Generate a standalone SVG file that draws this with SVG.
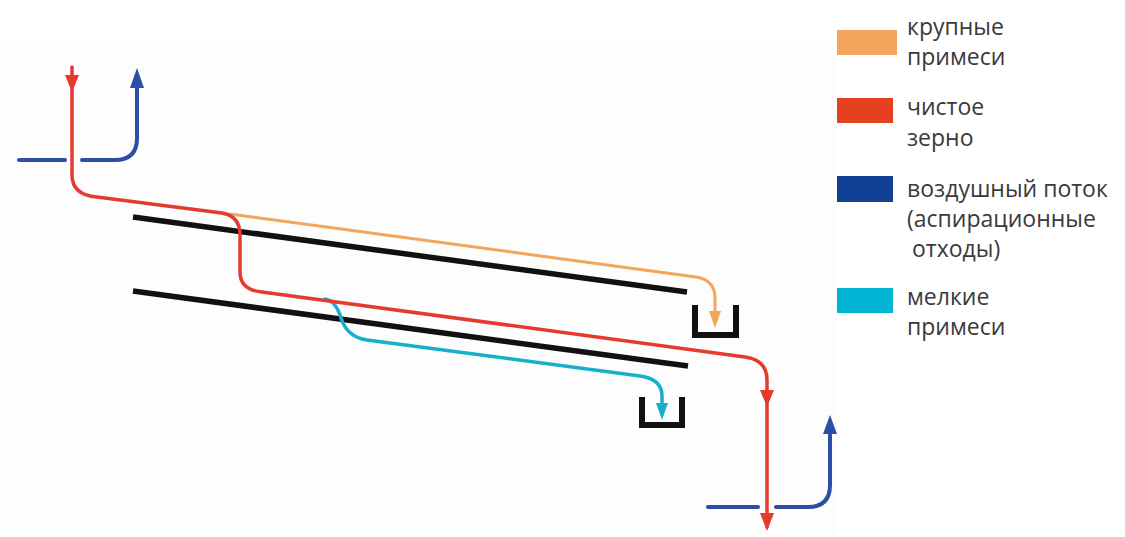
<svg xmlns="http://www.w3.org/2000/svg" width="1125" height="537" viewBox="0 0 1125 537">
<style>
.flow{fill:none;stroke-linecap:round;stroke-linejoin:round}
.red{stroke:#e53a2e;stroke-width:3.5}
.blue{stroke:#2b4ea6;stroke-width:4}
.orange{stroke:#f2a65a;stroke-width:3}
.cyan{stroke:#17afcc;stroke-width:3.5}
.sieve{stroke:#111;stroke-width:5.5;stroke-linecap:butt}
.bin{fill:none;stroke:#111;stroke-width:6;stroke-linejoin:miter}
.lbl{font-family:"Open Sans","Liberation Sans",sans-serif;font-size:23px;fill:#3a3a3a}
</style>
<rect width="1125" height="537" fill="#ffffff"/>
<rect x="0" y="40" width="837" height="497" fill="#fdfdfd"/>
<g id="sieves">
<line class="sieve" x1="133" y1="217" x2="687" y2="292"/>
<line class="sieve" x1="133" y1="291" x2="688" y2="366"/>
</g>
<g id="bin-coarse"><path class="bin" d="M695,305 V335 H736 V305"/></g>
<g id="bin-fine"><path class="bin" d="M642,397 V425 H682 V397"/></g>
<g id="connectors">
<path class="flow orange" d="M230,214 L696,277 Q715,280 715,298 V322"/>
<polygon fill="#f2a65a" points="709,311 721,311 715,328"/>
<path class="flow cyan" d="M325,299 Q336,301 341,318 Q347,337 367,340 L640,376 Q662,379 662,396 V414"/>
<polygon fill="#17afcc" points="656,403 668,403 662,420"/>
<path class="flow red" d="M72,67 V175 Q72,195 97,197 L222,213 Q240,216 240,235 V272 Q240,290 262,292 L745,357 Q767,360 767,380 V527"/>
<polygon fill="#e53a2e" points="65,75 79,75 72,92"/>
<polygon fill="#e53a2e" points="760,390 774,390 767,407"/>
<polygon fill="#e53a2e" points="760,513 774,513 767,531"/>
<path class="flow blue" d="M19,160 H65"/>
<path class="flow blue" d="M82,160 H115 Q137,160 137,138 V82"/>
<polygon fill="#2b4ea6" points="130,88 144,88 137,68"/>
<path class="flow blue" d="M708,507 H758"/>
<path class="flow blue" d="M776,507 H808 Q830,507 830,485 V428"/>
<polygon fill="#2b4ea6" points="823,434 837,434 830,415"/>
</g>
<g id="legend-coarse">
<rect x="837" y="30" width="60" height="25" fill="#f4a55e"/>
<text class="lbl" x="907" y="35">крупные</text>
<text class="lbl" x="907" y="65">примеси</text>
</g>
<g id="legend-grain">
<rect x="837" y="98" width="56" height="25" fill="#e5401f"/>
<text class="lbl" x="907" y="115">чистое</text>
<text class="lbl" x="907" y="146">зерно</text>
</g>
<g id="legend-air">
<rect x="837" y="176" width="56" height="26" fill="#0f4093"/>
<text class="lbl" x="907" y="197">воздушный поток</text>
<text class="lbl" x="907" y="227">(аспирационные</text>
<text class="lbl" x="912" y="257">отходы)</text>
</g>
<g id="legend-fine">
<rect x="837" y="288" width="56" height="25" fill="#00b4d4"/>
<text class="lbl" x="907" y="305">мелкие</text>
<text class="lbl" x="907" y="335">примеси</text>
</g>
</svg>
